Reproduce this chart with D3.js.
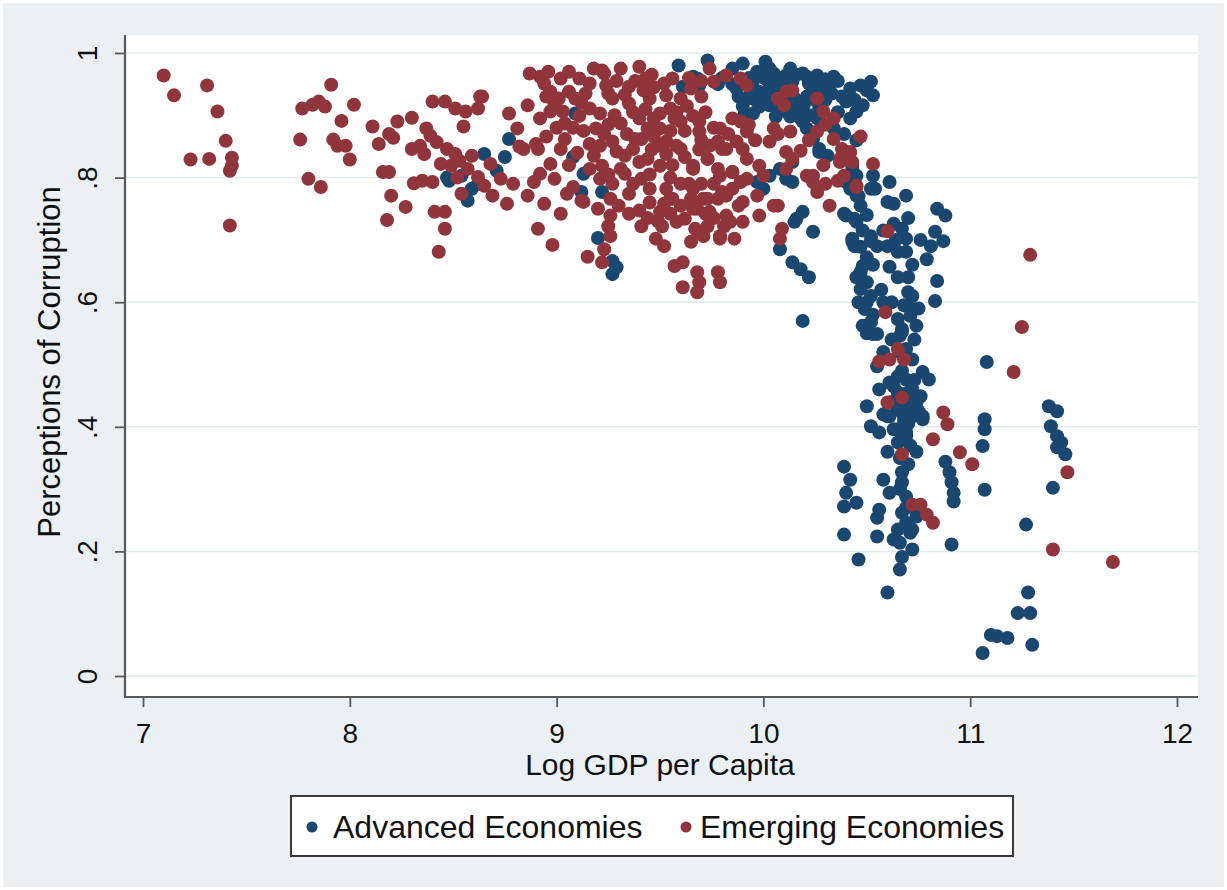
<!DOCTYPE html>
<html>
<head>
<meta charset="utf-8">
<script src="https://cdn.jsdelivr.net/npm/d3@7"></script>
<style>
  body { margin: 0; background: #ffffff; }
  svg { display: block; font-family: "Liberation Sans", Arial, sans-serif; }
</style>
</head>
<body>
<svg id="chart" width="1227" height="890"></svg>
<script>
// Axis ticks and labels
const xTicks = [7, 8, 9, 10, 11, 12];
const yTicks = [0, 0.2, 0.4, 0.6, 0.8, 1];
const yTickLabels = ["0", ".2", ".4", ".6", ".8", "1"];
const xTitle = "Log GDP per Capita";
const yTitle = "Perceptions of Corruption";
const seriesNames = ["Advanced Economies", "Emerging Economies"];

// [log GDP per capita, perceptions of corruption]
const advanced = [
  [8.65,0.838],[8.71,0.811],[8.59,0.782],[8.57,0.763],[8.75,0.833],[8.77,0.862],[8.48,0.795],[8.47,0.800],[8.54,0.803],[8.62,0.790],
  [9.08,0.833],[9.13,0.806],[9.12,0.777],[9.22,0.777],[9.09,0.903],[9.20,0.703],[9.27,0.666],[9.27,0.645],[9.29,0.656],
  [9.59,0.980],[9.73,0.988],[9.90,0.983],[10.01,0.986],[9.66,0.962],[9.69,0.948],[9.61,0.946],[9.68,0.959],
  [10.05,0.967],[10.11,0.964],[10.19,0.967],[10.26,0.964],[10.34,0.962],[9.98,0.938],[10.03,0.916],[10.11,0.906],[10.19,0.911],
  [10.24,0.938],[10.31,0.943],[10.14,0.954],[9.92,0.927],[9.87,0.943],[9.95,0.903],[10.18,0.895],[10.08,0.951],[10.15,0.927],
  [10.22,0.951],[10.01,0.959],[10.06,0.898],[10.27,0.911],[10.13,0.975],[9.98,0.914],[9.91,0.903],[10.21,0.930],[10.09,0.935],
  [10.28,0.955],[10.00,0.930],[9.95,0.955],
  [9.93,0.960],[9.97,0.970],[10.03,0.975],[10.07,0.960],[10.10,0.950],[10.16,0.965],[10.21,0.962],[10.24,0.955],[10.30,0.958],
  [10.32,0.950],[10.36,0.955],[10.28,0.940],[10.25,0.925],[10.20,0.920],[10.16,0.912],[10.12,0.920],[10.05,0.930],[10.03,0.945],
  [9.96,0.925],[9.94,0.940],[10.08,0.910],[10.13,0.898],[10.22,0.900],[10.26,0.895],[10.30,0.925],[10.33,0.935],[9.90,0.915],
  [9.88,0.930],[9.85,0.950],[9.80,0.960],[9.85,0.975],[9.78,0.950],
  [10.42,0.943],[10.47,0.948],[10.52,0.954],[10.40,0.922],[10.45,0.906],[10.48,0.916],[10.53,0.932],[10.19,0.890],[10.21,0.879],
  [10.24,0.862],[10.27,0.846],[10.31,0.835],[10.34,0.879],[10.43,0.819],[10.45,0.803],[10.42,0.782],[10.52,0.782],[10.53,0.803],
  [10.38,0.930],[10.44,0.925],[10.50,0.940],[10.36,0.905],[10.42,0.895],[10.39,0.870],[10.45,0.860],
  [9.97,0.793],[10.03,0.803],[10.08,0.814],[10.14,0.793],[10.00,0.782],[10.19,0.745],[10.24,0.713],[10.40,0.739],[10.45,0.729],
  [10.52,0.706],[10.43,0.697],[10.11,0.798],[10.08,0.685],[10.14,0.664],[10.18,0.653],[10.22,0.640],[10.19,0.570],[10.16,0.734],
  [10.14,0.825],[10.15,0.729],[10.27,0.841],[10.43,0.814],[10.45,0.771],[10.40,0.793],
  [10.39,0.742],[10.44,0.734],[10.43,0.702],[10.47,0.689],[10.52,0.698],[10.55,0.690],[10.60,0.690],[10.65,0.681],[10.69,0.681],
  [10.67,0.718],[10.63,0.726],[10.69,0.702],[10.54,0.782],[10.61,0.793],[10.69,0.771],[10.60,0.761],[10.63,0.758],[10.84,0.750],
  [10.88,0.739],[10.83,0.713],[10.87,0.698],[10.81,0.690],[10.79,0.669],[10.84,0.634],[10.83,0.602],
  [10.46,0.770],[10.47,0.755],[10.50,0.740],[10.48,0.715],[10.44,0.690],[10.50,0.672],[10.53,0.660],[10.45,0.640],[10.50,0.600],
  [10.46,0.600],[10.50,0.550],[10.53,0.580],[10.57,0.620],[10.62,0.600],[10.68,0.595],[10.70,0.640],[10.72,0.660],[10.64,0.700],
  [10.58,0.715],[10.70,0.735],[10.76,0.700],[10.72,0.610],[10.75,0.590],[10.66,0.520],[10.62,0.540],[10.58,0.520],[10.73,0.540],
  [10.48,0.658],[10.47,0.648],[10.50,0.632],[10.47,0.621],[10.52,0.610],[10.49,0.589],[10.52,0.568],[10.55,0.549],[10.48,0.562],
  [10.61,0.657],[10.65,0.640],[10.70,0.616],[10.72,0.589],[10.74,0.562],[10.67,0.557],[10.65,0.573],[10.58,0.600],[10.71,0.578],
  [10.66,0.546],[10.53,0.549],[10.67,0.552],
  [10.55,0.497],[10.56,0.460],[10.61,0.471],[10.65,0.481],[10.69,0.525],[10.72,0.508],[10.77,0.488],[10.80,0.476],[10.72,0.460],
  [10.76,0.449],[10.50,0.433],[10.52,0.401],[10.56,0.391],[10.61,0.417],[10.65,0.428],[10.69,0.433],[10.74,0.439],[10.77,0.417],
  [10.72,0.417],[10.65,0.396],[10.69,0.391],[10.69,0.476],[10.65,0.455],[10.71,0.444],[10.67,0.423],[10.60,0.417],[10.77,0.412],
  [10.63,0.396],[10.69,0.385],[10.74,0.360],[10.60,0.360],[10.65,0.375],
  [10.63,0.465],[10.67,0.490],[10.70,0.455],[10.73,0.475],[10.75,0.425],[10.70,0.405],[10.62,0.440],[10.58,0.420],[10.68,0.410],
  [10.71,0.370],[10.66,0.350],[10.70,0.340],
  [10.39,0.336],[10.42,0.315],[10.40,0.294],[10.45,0.278],[10.39,0.272],[10.39,0.227],[10.46,0.187],[10.60,0.134],[10.55,0.224],
  [10.56,0.267],[10.55,0.254],[10.58,0.315],[10.61,0.294],[10.67,0.327],[10.67,0.311],[10.69,0.288],[10.67,0.262],[10.69,0.246],
  [10.71,0.230],[10.66,0.214],[10.67,0.191],[10.66,0.171],[10.72,0.203],[10.74,0.256],[10.72,0.235],[10.63,0.219],[10.65,0.235],
  [10.69,0.270],[10.66,0.300],
  [10.88,0.344],[10.90,0.327],[10.91,0.311],[10.92,0.294],[10.92,0.280],[10.91,0.211],
  [11.08,0.504],[11.07,0.412],[11.07,0.396],[11.06,0.369],[11.07,0.299],[11.38,0.433],[11.42,0.425],[11.39,0.401],[11.42,0.385],
  [11.44,0.375],[11.42,0.367],[11.46,0.356],[11.40,0.302],[11.27,0.243],[11.28,0.134],[11.23,0.101],[11.29,0.101],[11.10,0.066],
  [11.13,0.064],[11.18,0.061],[11.30,0.050],[11.06,0.037]
];

const emerging = [
  [7.10,0.964],[7.15,0.932],[7.31,0.948],[7.36,0.906],[7.40,0.859],[7.23,0.829],[7.32,0.830],[7.43,0.832],[7.43,0.819],[7.42,0.811],[7.42,0.723],
  [7.91,0.949],[7.77,0.911],[7.82,0.917],[7.85,0.922],[7.88,0.914],[8.02,0.917],[7.96,0.891],[7.76,0.861],[7.92,0.861],[7.94,0.851],
  [7.98,0.851],[8.00,0.829],[7.80,0.798],[7.86,0.785],
  [8.11,0.882],[8.14,0.854],[8.19,0.870],[8.21,0.864],[8.23,0.890],[8.30,0.896],[8.30,0.846],[8.16,0.809],[8.19,0.809],[8.31,0.791],
  [8.20,0.771],[8.27,0.753],[8.18,0.732],
  [8.40,0.922],[8.46,0.922],[8.51,0.911],[8.56,0.906],[8.63,0.930],[8.62,0.911],[8.55,0.882],[8.37,0.879],[8.39,0.867],[8.34,0.851],
  [8.47,0.846],[8.51,0.838],[8.53,0.827],[8.49,0.819],[8.59,0.835],[8.57,0.814],[8.54,0.774],[8.65,0.787],[8.69,0.771],[8.76,0.758],
  [8.79,0.790],[8.82,0.850],[8.90,0.854],[8.86,0.771],[8.89,0.793],[8.77,0.903],[8.81,0.879],[8.86,0.916],[8.95,0.866],[9.04,0.862],
  [9.05,0.774],[9.12,0.763],[8.91,0.718],[8.98,0.692],
  [8.36,0.838],[8.35,0.795],[8.40,0.793],[8.41,0.745],[8.46,0.745],[8.46,0.718],[8.43,0.681],[8.62,0.801],[8.68,0.822],[8.73,0.798],
  [8.44,0.822],[8.42,0.857],[8.52,0.800],
  [8.64,0.930],[8.92,0.962],[8.96,0.970],[9.02,0.959],[9.06,0.970],[9.11,0.959],[9.18,0.975],[9.22,0.972],[8.97,0.938],[9.01,0.927],
  [9.06,0.938],[8.92,0.895],[8.97,0.906],[9.03,0.906],[9.11,0.899],[9.16,0.911],[9.24,0.948],[8.94,0.951],[8.99,0.919],[9.09,0.927],
  [9.14,0.935],[9.04,0.887],[9.19,0.879],[8.87,0.967],[8.84,0.846],[8.91,0.846],
  [9.08,0.880],[9.12,0.920],[9.00,0.880],[8.95,0.930],[9.06,0.820],[9.10,0.840],[9.13,0.875],[9.18,0.835],[9.08,0.785],
  [9.02,0.846],[9.16,0.854],[8.97,0.822],[8.92,0.806],[8.99,0.798],[9.16,0.814],[9.21,0.798],[8.94,0.758],[9.02,0.742],
  [9.13,0.761],[9.20,0.750],[9.26,0.766],[9.26,0.739],[9.25,0.722],[9.26,0.706],[9.23,0.685],[9.22,0.664],[9.15,0.673],[9.40,0.747],
  [9.41,0.722],[9.49,0.730],[9.51,0.722],[9.52,0.690],[9.57,0.658],[9.61,0.664],[9.61,0.624],[9.68,0.648],[9.69,0.632],[9.68,0.616],
  [9.78,0.648],[9.79,0.632],[9.65,0.697],[9.71,0.706],[9.79,0.702],[9.86,0.702],[9.81,0.722],[9.82,0.739],[9.88,0.755],[9.90,0.729],
  [9.78,0.766],[9.80,0.777],[9.85,0.782],[9.60,0.755],[9.62,0.734],[9.56,0.766],[9.53,0.782],[9.66,0.782],[9.68,0.750],[9.71,0.766],
  [9.21,0.851],[9.29,0.842],[9.22,0.819],[9.31,0.814],[9.37,0.846],[9.44,0.830],[9.41,0.798],[9.50,0.819],[9.49,0.851],[9.58,0.851],
  [9.66,0.814],[9.73,0.830],[9.74,0.851],[9.79,0.803],[9.85,0.809],[9.92,0.798],[9.92,0.830],[9.82,0.846],[9.27,0.790],[9.35,0.774],
  [9.45,0.782],[9.52,0.758],[9.64,0.790],[9.72,0.742],[9.67,0.718],[9.48,0.702],[9.33,0.806],
  [9.23,0.967],[9.31,0.975],[9.40,0.978],[9.43,0.959],[9.35,0.946],[9.27,0.927],[9.35,0.919],[9.45,0.927],[9.52,0.951],[9.50,0.903],
  [9.40,0.895],[9.31,0.887],[9.23,0.870],[9.50,0.879],[9.57,0.895],[9.38,0.862],[9.44,0.879],[9.21,0.903],[9.16,0.951],
  [9.25,0.935],[9.29,0.955],[9.33,0.933],[9.38,0.955],[9.42,0.940],[9.47,0.945],[9.46,0.965],[9.37,0.905],[9.43,0.910],[9.47,0.895],
  [9.28,0.900],[9.25,0.885],[9.34,0.870],[9.41,0.862],[9.47,0.866],[9.55,0.875],[9.58,0.905],[9.63,0.915],[9.62,0.875],[9.69,0.890],
  [9.72,0.905],[9.70,0.930],[9.64,0.960],[9.70,0.955],[9.27,0.858],[9.33,0.835],[9.40,0.825],[9.46,0.845],[9.53,0.838],[9.56,0.820],
  [9.62,0.833],[9.69,0.845],[9.70,0.860],[9.76,0.880],[9.83,0.870],[9.25,0.805],[9.37,0.790],[9.45,0.805],[9.55,0.800],[9.60,0.790],
  [9.70,0.790],[9.76,0.790],[9.30,0.755],[9.35,0.742],[9.45,0.760],[9.44,0.735],[9.55,0.742],[9.50,0.745],[9.65,0.766],[9.76,0.735],
  [9.73,0.722],
  [9.56,0.959],[9.65,0.943],[9.74,0.975],[9.76,0.954],[9.82,0.964],[9.89,0.959],[9.92,0.948],[10.07,0.927],
  [10.11,0.938],[10.14,0.940],[10.10,0.916],[10.26,0.927],[10.29,0.906],[10.34,0.895],[10.47,0.866],[10.26,0.874],[10.34,0.862],
  [10.38,0.846],[10.40,0.835],[10.37,0.825],[10.36,0.795],[10.45,0.787],[10.32,0.755],[10.53,0.822],[10.13,0.874],[10.11,0.841],
  [10.14,0.830],[10.05,0.879],[10.03,0.858],[10.21,0.803],[10.24,0.793],[10.09,0.718],[10.08,0.702],[10.07,0.755],[10.00,0.803],
  [9.93,0.885],[9.96,0.860],[10.07,0.870],[10.22,0.860],
  [10.30,0.885],[10.18,0.843],[10.29,0.820],[10.30,0.790],
  [9.98,0.819],[9.90,0.846],[9.92,0.874],[9.87,0.858],[9.89,0.890],[9.85,0.895],[9.79,0.879],[9.78,0.858],[9.80,0.846],[9.69,0.874],
  [9.66,0.899],[9.60,0.890],[9.55,0.911],[9.53,0.932],[9.60,0.927],[9.53,0.858],[9.60,0.846],[9.66,0.819],[9.73,0.830],[9.78,0.814],
  [9.85,0.809],[9.89,0.793],[9.82,0.771],[9.90,0.761],[9.97,0.771],[10.05,0.755],[9.73,0.766],[9.74,0.745],[9.66,0.750],[9.55,0.766],
  [9.58,0.729],[9.69,0.713],[9.79,0.706],[9.84,0.729],[9.98,0.739],[10.39,0.803],
  [10.11,0.814],[10.24,0.803],[10.26,0.777],[10.37,0.830],[10.42,0.841],[10.43,0.825],[10.45,0.785],[10.60,0.714],[10.59,0.584],
  [11.29,0.676],[11.25,0.560],[11.21,0.488],
  [10.56,0.505],[10.61,0.508],[10.65,0.525],[10.68,0.508],[10.60,0.439],[10.67,0.447],[10.87,0.423],[10.89,0.404],[10.82,0.380],
  [10.95,0.359],[11.01,0.340],[10.67,0.356],[10.72,0.275],[10.79,0.259],[10.82,0.246],[10.76,0.275],[11.47,0.327],[11.40,0.203],
  [11.69,0.183]
];

const colors = ["#1a476f", "#90353b"];
const svg = d3.select("#chart");
const W = 1227, H = 890;

// graph region background
svg.append("rect").attr("x", 3).attr("y", 3).attr("width", W - 6).attr("height", H - 6).attr("fill", "#eaf0f3");

const plotLeft = 125, plotRight = 1198, plotTop = 35, plotBottom = 697;
const x = d3.scaleLinear().domain([7, 12]).range([143, 1177]);
const y = d3.scaleLinear().domain([0, 1]).range([676, 53]);

// plot region
svg.append("rect").attr("x", plotLeft).attr("y", plotTop)
  .attr("width", plotRight - plotLeft).attr("height", plotBottom - plotTop).attr("fill", "#ffffff");

// horizontal grid lines
svg.append("g").selectAll("line").data(yTicks).join("line")
  .attr("x1", plotLeft).attr("x2", plotRight)
  .attr("y1", d => y(d)).attr("y2", d => y(d))
  .attr("stroke", "#e2ebee").attr("stroke-width", 1.5);

// scatter markers: advanced first, emerging on top
const series = [advanced, emerging];
series.forEach((pts, i) => {
  svg.append("g").selectAll("circle").data(pts).join("circle")
    .attr("cx", d => x(d[0])).attr("cy", d => y(d[1])).attr("r", 7)
    .attr("fill", colors[i]);
});

const axisColor = "#5a5a5a";

// y axis
const yAxis = svg.append("g").attr("transform", `translate(${plotLeft},0)`)
  .call(d3.axisLeft(y).tickValues(yTicks).tickFormat((d, i) => yTickLabels[i]).tickSize(10));
yAxis.select(".domain").remove();
yAxis.selectAll(".tick line").attr("stroke", axisColor).attr("stroke-width", 1.8);
yAxis.selectAll(".tick text")
  .attr("x", null).attr("dy", null)
  .attr("transform", "translate(-38,0) rotate(-90)")
  .attr("text-anchor", "middle").attr("dy", "0.36em")
  .attr("font-size", 28).attr("font-family", "Liberation Sans, Arial, sans-serif").attr("fill", "#111");
svg.append("line").attr("x1", plotLeft).attr("x2", plotLeft).attr("y1", plotTop).attr("y2", plotBottom + 1)
  .attr("stroke", axisColor).attr("stroke-width", 2.2);

// x axis
const xAxis = svg.append("g").attr("transform", `translate(0,${plotBottom})`)
  .call(d3.axisBottom(x).tickValues(xTicks).tickFormat(d3.format("d")).tickSize(10).tickPadding(16));
xAxis.select(".domain").remove();
xAxis.selectAll(".tick line").attr("stroke", axisColor).attr("stroke-width", 1.8);
xAxis.selectAll(".tick text").attr("font-size", 28)
  .attr("font-family", "Liberation Sans, Arial, sans-serif").attr("fill", "#111");
svg.append("line").attr("x1", plotLeft - 1).attr("x2", plotRight).attr("y1", plotBottom).attr("y2", plotBottom)
  .attr("stroke", axisColor).attr("stroke-width", 2.2);

// axis titles
svg.append("text").attr("x", 660).attr("y", 775).attr("text-anchor", "middle")
  .attr("font-size", 30).attr("fill", "#111").text(xTitle);
svg.append("text").attr("transform", "translate(60,362) rotate(-90)").attr("text-anchor", "middle")
  .attr("font-size", 31).attr("fill", "#111").text(yTitle);

// legend
const legend = svg.append("g");
legend.append("rect").attr("x", 291).attr("y", 796).attr("width", 722).attr("height", 60)
  .attr("fill", "#ffffff").attr("stroke", "#3a3a3a").attr("stroke-width", 2);
const legendItems = [
  { name: seriesNames[0], color: colors[0], cx: 312, tx: 333 },
  { name: seriesNames[1], color: colors[1], cx: 686, tx: 700 }
];
legendItems.forEach(it => {
  legend.append("circle").attr("cx", it.cx).attr("cy", 827).attr("r", 5.5).attr("fill", it.color);
  legend.append("text").attr("x", it.tx).attr("y", 838).attr("font-size", 32).attr("fill", "#111").text(it.name);
});
</script>
</body>
</html>
